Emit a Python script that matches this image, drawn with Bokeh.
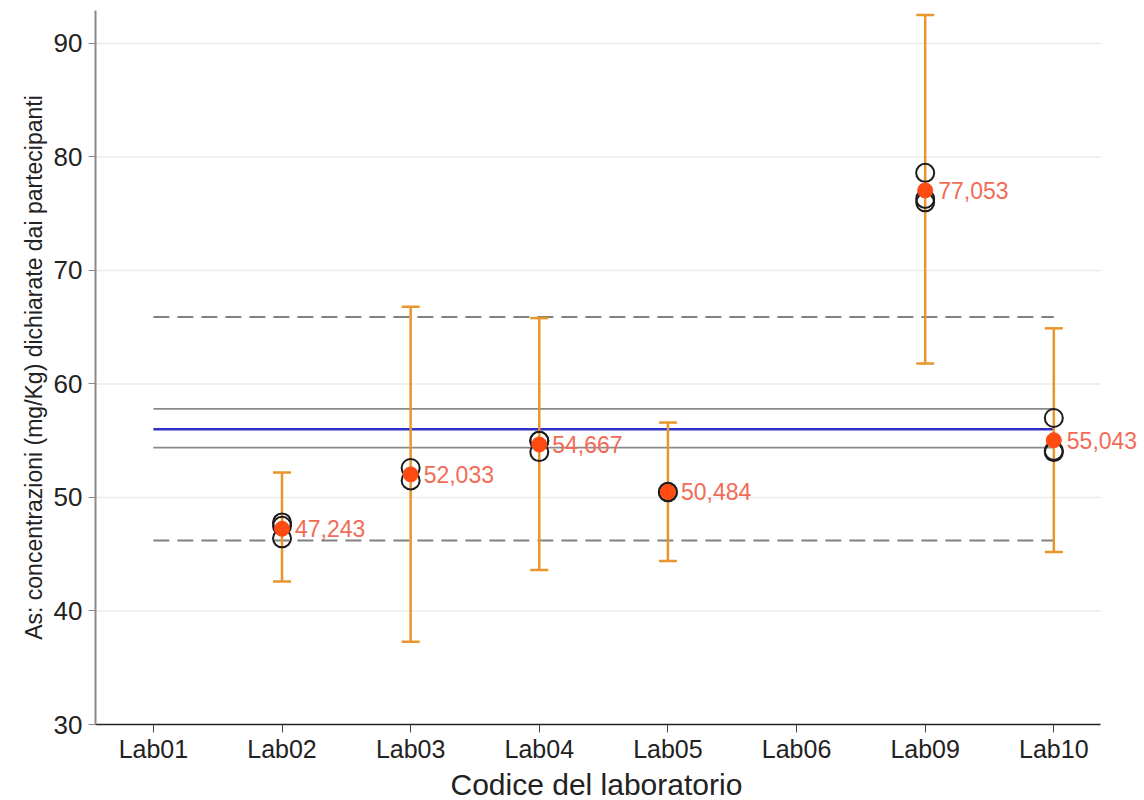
from bokeh.plotting import figure
from bokeh.models import ColumnDataSource, FixedTicker, Range1d, Title
from bokeh.core.properties import value
from bokeh.embed import file_html
from bokeh.resources import INLINE

labs = ["Lab01", "Lab02", "Lab03", "Lab04", "Lab05", "Lab06", "Lab09", "Lab10"]

# individual replicate results
rep_labs = ["Lab02", "Lab02", "Lab02", "Lab03", "Lab03", "Lab04", "Lab04", "Lab04",
            "Lab05", "Lab05", "Lab09", "Lab09", "Lab09", "Lab10", "Lab10", "Lab10"]
rep_vals = [47.8, 47.5, 46.4, 52.6, 51.5, 55.0, 55.0, 54.0,
            50.5, 50.45, 78.6, 76.3, 76.0, 57.0, 54.0, 54.1]

# laboratory means and uncertainty intervals
mean_labs = ["Lab02", "Lab03", "Lab04", "Lab05", "Lab09", "Lab10"]
means = [47.243, 52.033, 54.667, 50.484, 77.053, 55.043]
upper = [52.2, 66.8, 65.8, 56.6, 92.5, 64.9]
lower = [42.6, 37.3, 43.6, 44.4, 61.8, 45.2]

assigned_value = 56.0
inner_limits = [57.8, 54.4]
outer_limits = [65.9, 46.2]
y_ticks = [30, 40, 50, 60, 70, 80, 90]

x_title = "Codice del laboratorio"
y_title = "As: concentrazioni (mg/Kg) dichiarate dai partecipanti"

FONT = "Liberation Sans"
pos = {l: i for i, l in enumerate(labs)}

X_START = -0.45
X_AXIS_END = len(labs) - 1 + 0.365
X_VIEW_END = X_AXIS_END + 0.34   # room for the last value label

p = figure(width=1144, height=800, output_backend="svg", toolbar_location=None,
           x_range=Range1d(X_START, X_VIEW_END), y_range=Range1d(30, 92.9),
           min_border_left=95, min_border_right=0, min_border_top=10, min_border_bottom=75)
p.outline_line_color = None
p.background_fill_color = "white"

# axes
p.xaxis.ticker = FixedTicker(ticks=list(range(len(labs))))
p.xaxis.major_label_overrides = {i: l for i, l in enumerate(labs)}
p.xaxis.bounds = (X_START, X_AXIS_END)
p.yaxis.ticker = FixedTicker(ticks=y_ticks)
p.yaxis.axis_label = y_title
for ax in (p.xaxis, p.yaxis):
    ax.major_label_text_font = FONT
    ax.axis_label_text_font = FONT
    ax.axis_label_text_font_style = "normal"
    ax.axis_label_text_color = "#222222"
    ax.major_label_text_color = "#222222"
    ax.minor_tick_line_color = None
    ax.major_tick_in = 0
p.xaxis.major_label_text_font_size = "25px"
p.yaxis.major_label_text_font_size = "26px"
p.yaxis.axis_label_text_font_size = "23px"
p.xaxis.major_tick_out = 8
p.yaxis.major_tick_out = 7
p.xaxis.axis_line_color = "#222222"
p.xaxis.axis_line_width = 1.5
p.xaxis.major_tick_line_color = "#444444"
p.yaxis.axis_line_color = "#8a8a8a"
p.yaxis.axis_line_width = 2
p.yaxis.major_tick_line_color = "#8a8a8a"
p.yaxis.axis_label_standoff = 4
p.xaxis.major_label_standoff = 2
p.yaxis.major_label_standoff = 6

# x axis title, centred under the axis extent (not the widened frame)
xt = Title(text=x_title, align="left", offset=355, text_font=FONT,
           text_font_size="30px", text_font_style="normal", text_color="#222222",
           standoff=0)
p.add_layout(xt, "below")

p.xgrid.grid_line_color = None
p.ygrid.grid_line_color = None
# horizontal grid lines limited to the axis extent
gy = y_ticks[1:]
p.segment(x0=[X_START] * len(gy), x1=[X_AXIS_END] * len(gy), y0=gy, y1=gy,
          line_color="#ebebeb", line_width=1.5)

# reference lines
x0, x1 = 0, len(labs) - 1
for yv in outer_limits:
    p.segment(x0=[x0], x1=[x1], y0=[yv], y1=[yv], line_color="#808080",
              line_width=2, line_dash="16 8")
for yv in inner_limits:
    p.segment(x0=[x0], x1=[x1], y0=[yv], y1=[yv], line_color="#8a8a8a", line_width=1.8)
p.segment(x0=[x0], x1=[x1], y0=[assigned_value], y1=[assigned_value],
          line_color="#3030c8", line_width=2.5)

# error bars
msrc = ColumnDataSource(dict(
    x=[pos[l] for l in mean_labs], mean=means, upper=upper, lower=lower,
    label=[f"{m:.3f}".replace(".", ",") for m in means]))
ORANGE = "#E8952C"
p.segment(x0="x", x1="x", y0="lower", y1="upper", source=msrc, line_color=ORANGE, line_width=2.5)
p.scatter(x="x", y="upper", source=msrc, marker="dash", size=18, line_color=ORANGE, line_width=2.5)
p.scatter(x="x", y="lower", source=msrc, marker="dash", size=18, line_color=ORANGE, line_width=2.5)

# replicate results
rsrc = ColumnDataSource(dict(x=[pos[l] for l in rep_labs], y=rep_vals))
p.scatter(x="x", y="y", source=rsrc, marker="circle", size=18, fill_color=None,
          line_color="#1c1c1c", line_width=2)

# means
p.scatter(x="x", y="mean", source=msrc, marker="circle", size=15, fill_color="#FF4A12",
          line_color="#FF4A12")
p.text(x="x", y="mean", text="label", source=msrc, x_offset=13, text_baseline="middle",
       text_font=value(FONT), text_font_size="23px", text_color="#F26B55")

open("out.html", "w").write(file_html(p, INLINE))
